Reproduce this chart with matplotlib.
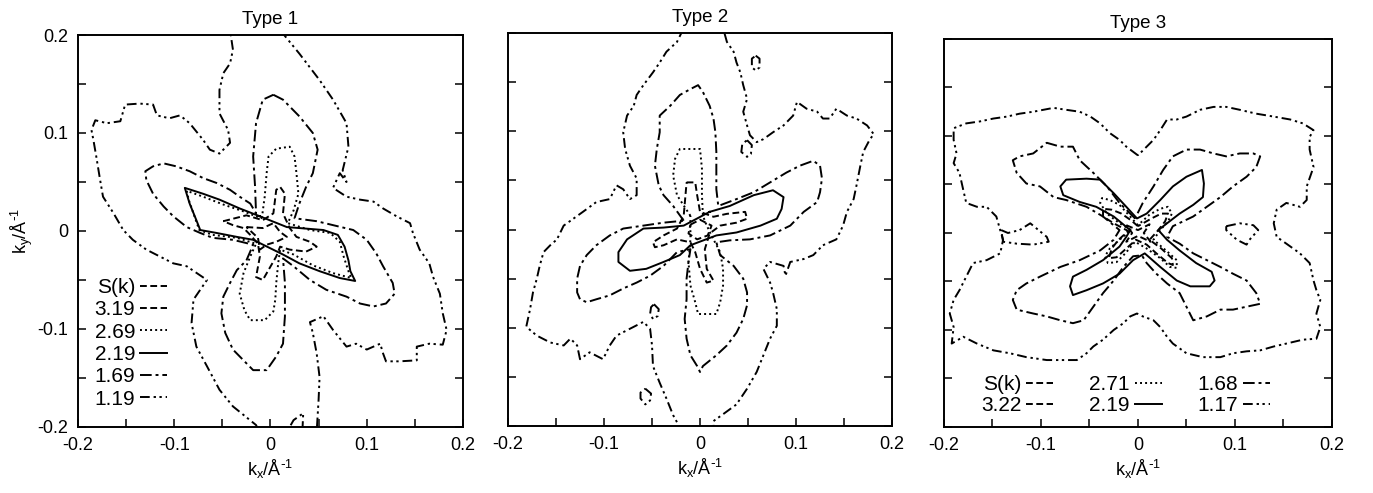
import matplotlib
matplotlib.use("Agg")
import matplotlib.pyplot as plt
from matplotlib.ticker import MultipleLocator, FuncFormatter

plt.rcParams["font.family"] = ["Liberation Sans", "DejaVu Sans"]
plt.rcParams["mathtext.default"] = "regular"
plt.rcParams["axes.unicode_minus"] = False

# contour outlines, (kx, ky) in 1/Angstrom
# ---- Type 1 ----
T1_LEVELS = ["S(k)", "3.19", "2.69", "2.19", "1.69", "1.19"]
T1_SK = [(-0.025, 0.004), (-0.008, 0.003), (0.003, 0.008), (0.010, -0.001), (0.017, -0.006),
         (0.006, -0.011), (-0.004, -0.014), (-0.011, -0.019), (-0.013, -0.007)]
T1_319 = [(-0.049, 0.010), (-0.025, 0.016), (-0.008, 0.011), (0.003, 0.018), (0.006, 0.042),
          (0.010, 0.045), (0.015, 0.038), (0.013, 0.018), (0.020, 0.003), (0.027, -0.006),
          (0.041, -0.011), (0.048, -0.016), (0.037, -0.021), (0.020, -0.019), (0.010, -0.016),
          (0.006, -0.026), (-0.008, -0.050), (-0.015, -0.047), (-0.011, -0.026), (-0.013, -0.013),
          (-0.021, -0.004), (-0.028, 0.003), (-0.039, 0.006)]
T1_269 = [(-0.009, 0.013), (-0.006, 0.035), (-0.004, 0.059), (-0.002, 0.076), (0.006, 0.084),
          (0.020, 0.086), (0.025, 0.076), (0.027, 0.059), (0.029, 0.038), (0.024, 0.021),
          (0.018, 0.008), (0.041, 0.001), (0.062, -0.002), (0.072, -0.011), (0.076, -0.026),
          (0.081, -0.041), (0.084, -0.048), (0.065, -0.043), (0.044, -0.035), (0.024, -0.024),
          (0.010, -0.019), (0.008, -0.033), (0.006, -0.053), (0.005, -0.070), (0.003, -0.082),
          (-0.006, -0.091), (-0.021, -0.091), (-0.027, -0.081), (-0.032, -0.064), (-0.028, -0.043),
          (-0.021, -0.026), (-0.015, -0.013), (-0.035, -0.007), (-0.060, -0.004), (-0.074, 0.001),
          (-0.079, 0.015), (-0.085, 0.032), (-0.087, 0.041), (-0.070, 0.035), (-0.049, 0.027),
          (-0.028, 0.020), (-0.015, 0.015)]
T1_219 = [(-0.011, 0.015), (-0.032, 0.023), (-0.053, 0.032), (-0.070, 0.038), (-0.089, 0.044),
          (-0.084, 0.028), (-0.077, 0.011), (-0.073, 0.001), (-0.056, -0.002), (-0.035, -0.006),
          (-0.018, -0.009), (0.013, -0.024), (0.030, -0.033), (0.051, -0.041), (0.072, -0.048),
          (0.088, -0.051), (0.083, -0.041), (0.081, -0.030), (0.077, -0.016), (0.070, -0.004),
          (0.055, 0.001), (0.030, 0.003), (0.017, 0.004)]
T1_169 = [(0.003, 0.139), (0.013, 0.134), (0.030, 0.117), (0.044, 0.100), (0.049, 0.083),
          (0.044, 0.059), (0.037, 0.045), (0.030, 0.028), (0.025, 0.013), (0.048, 0.010),
          (0.086, 0.001), (0.100, -0.009), (0.110, -0.023), (0.117, -0.036), (0.127, -0.053),
          (0.129, -0.064), (0.120, -0.074), (0.107, -0.077), (0.093, -0.074), (0.079, -0.067),
          (0.058, -0.060), (0.041, -0.050), (0.024, -0.036), (0.013, -0.028), (0.015, -0.053),
          (0.015, -0.087), (0.013, -0.115), (0.006, -0.128), (-0.004, -0.142), (-0.018, -0.142),
          (-0.028, -0.132), (-0.039, -0.121), (-0.047, -0.104), (-0.051, -0.084), (-0.049, -0.067),
          (-0.042, -0.053), (-0.035, -0.040), (-0.025, -0.030), (-0.018, -0.014), (-0.039, -0.009),
          (-0.060, -0.007), (-0.073, -0.002), (-0.087, 0.004), (-0.101, 0.015), (-0.111, 0.025),
          (-0.122, 0.038), (-0.129, 0.052), (-0.130, 0.061), (-0.122, 0.066), (-0.111, 0.069),
          (-0.098, 0.066), (-0.084, 0.061), (-0.070, 0.054), (-0.056, 0.049), (-0.042, 0.042),
          (-0.032, 0.035), (-0.021, 0.028), (-0.015, 0.018), (-0.016, 0.045), (-0.018, 0.076),
          (-0.015, 0.110), (-0.008, 0.134)]
T1_119 = [(0.010, 0.205), (0.030, 0.181), (0.051, 0.154), (0.065, 0.134), (0.079, 0.110),
          (0.081, 0.086), (0.075, 0.062), (0.079, 0.050), (0.072, 0.059), (0.065, 0.044),
          (0.079, 0.035), (0.093, 0.032), (0.107, 0.030), (0.117, 0.023), (0.131, 0.015),
          (0.145, 0.008), (0.148, -0.002), (0.155, -0.019), (0.165, -0.033), (0.169, -0.047),
          (0.176, -0.064), (0.179, -0.084), (0.183, -0.101), (0.179, -0.116), (0.165, -0.115),
          (0.152, -0.118), (0.152, -0.132), (0.134, -0.133), (0.120, -0.133), (0.117, -0.125),
          (0.114, -0.115), (0.100, -0.121), (0.089, -0.115), (0.079, -0.118), (0.065, -0.101),
          (0.055, -0.087), (0.041, -0.093), (0.044, -0.104), (0.048, -0.125), (0.051, -0.149),
          (0.050, -0.172), (0.048, -0.205), (0.045, -0.230), (0.032, -0.230), (0.034, -0.186),
          (0.024, -0.193), (0.017, -0.205), (0.000, -0.230), (-0.015, -0.198), (-0.039, -0.179),
          (-0.053, -0.162), (-0.066, -0.138), (-0.077, -0.118), (-0.082, -0.094), (-0.080, -0.070),
          (-0.066, -0.050), (-0.087, -0.036), (-0.101, -0.033), (-0.115, -0.026), (-0.129, -0.019),
          (-0.143, -0.009), (-0.153, 0.001), (-0.163, 0.018), (-0.174, 0.035), (-0.177, 0.052),
          (-0.181, 0.076), (-0.184, 0.093), (-0.186, 0.103), (-0.182, 0.113), (-0.170, 0.110),
          (-0.156, 0.112), (-0.151, 0.129), (-0.136, 0.130), (-0.122, 0.129), (-0.118, 0.118),
          (-0.105, 0.115), (-0.094, 0.118), (-0.084, 0.110), (-0.070, 0.093), (-0.063, 0.083),
          (-0.053, 0.079), (-0.042, 0.090), (-0.044, 0.103), (-0.053, 0.120), (-0.053, 0.144),
          (-0.049, 0.161), (-0.042, 0.171), (-0.039, 0.185), (-0.042, 0.205), (-0.040, 0.230),
          (0.010, 0.230)]

# ---- Type 2 ----
T2_LEVELS = T1_LEVELS
T2_SK = [(-0.010, 0.005), (0.000, 0.010), (0.012, 0.004), (0.008, -0.006), (-0.003, -0.010),
         (-0.012, -0.004)]
T2_319 = [(-0.014, 0.048), (-0.005, 0.048), (-0.003, 0.035), (0.000, 0.018), (0.014, 0.013),
          (0.028, 0.016), (0.047, 0.018), (0.049, 0.011), (0.038, 0.007), (0.021, 0.004),
          (0.010, -0.004), (0.005, -0.020), (0.007, -0.040), (0.014, -0.052), (0.007, -0.054),
          (0.000, -0.040), (-0.005, -0.023), (-0.010, -0.013), (-0.024, -0.010), (-0.038, -0.016),
          (-0.047, -0.018), (-0.049, -0.013), (-0.038, -0.006), (-0.024, 0.001), (-0.017, 0.014)]
T2_269 = [(-0.010, 0.014), (-0.024, 0.035), (-0.028, 0.055), (-0.026, 0.072), (-0.021, 0.082),
          (0.000, 0.082), (0.002, 0.062), (0.002, 0.035), (0.003, 0.014), (0.007, 0.004),
          (0.014, -0.010), (0.021, -0.023), (0.024, -0.040), (0.024, -0.057), (0.021, -0.074),
          (0.017, -0.086), (-0.002, -0.086), (-0.005, -0.074), (-0.010, -0.057), (-0.012, -0.033),
          (-0.010, -0.010)]
T2_219 = [(0.010, 0.018), (0.031, 0.024), (0.056, 0.035), (0.076, 0.040), (0.087, 0.033),
          (0.085, 0.021), (0.080, 0.011), (0.063, 0.004), (0.038, -0.003), (0.017, -0.006),
          (-0.010, -0.016), (-0.021, -0.026), (-0.038, -0.033), (-0.056, -0.040), (-0.073, -0.042),
          (-0.085, -0.033), (-0.085, -0.023), (-0.076, -0.010), (-0.059, 0.001), (-0.038, 0.002),
          (-0.017, 0.004)]
T2_169 = [(-0.017, 0.009), (-0.028, 0.024), (-0.038, 0.035), (-0.043, 0.045), (-0.047, 0.065),
          (-0.045, 0.082), (-0.042, 0.099), (-0.042, 0.116), (-0.031, 0.126), (-0.021, 0.137),
          (-0.010, 0.143), (-0.002, 0.147), (0.003, 0.140), (0.010, 0.126), (0.014, 0.113),
          (0.016, 0.099), (0.017, 0.079), (0.017, 0.058), (0.017, 0.041), (0.019, 0.024),
          (0.038, 0.031), (0.056, 0.038), (0.073, 0.048), (0.090, 0.058), (0.104, 0.065),
          (0.118, 0.070), (0.125, 0.065), (0.127, 0.052), (0.125, 0.038), (0.122, 0.028),
          (0.108, 0.018), (0.094, 0.004), (0.073, -0.006), (0.052, -0.010), (0.031, -0.011),
          (0.017, -0.013), (0.021, -0.026), (0.035, -0.037), (0.045, -0.050), (0.049, -0.064),
          (0.049, -0.077), (0.045, -0.091), (0.038, -0.105), (0.028, -0.118), (0.017, -0.128),
          (0.003, -0.139), (0.000, -0.145), (-0.003, -0.139), (-0.010, -0.128), (-0.014, -0.111),
          (-0.016, -0.091), (-0.014, -0.071), (-0.014, -0.050), (-0.012, -0.033), (-0.010, -0.020),
          (-0.024, -0.023), (-0.038, -0.037), (-0.052, -0.047), (-0.066, -0.054), (-0.080, -0.060),
          (-0.094, -0.067), (-0.108, -0.071), (-0.118, -0.074), (-0.125, -0.071), (-0.128, -0.064),
          (-0.128, -0.050), (-0.125, -0.037), (-0.118, -0.026), (-0.108, -0.016), (-0.094, -0.006),
          (-0.080, 0.001), (-0.059, 0.004), (-0.038, 0.007)]
T2_119 = [(-0.017, 0.205), (-0.024, 0.191), (-0.035, 0.181), (-0.042, 0.170), (-0.049, 0.160),
          (-0.059, 0.147), (-0.066, 0.137), (-0.069, 0.126), (-0.076, 0.116), (-0.080, 0.099),
          (-0.078, 0.082), (-0.073, 0.065), (-0.066, 0.052), (-0.066, 0.035), (-0.073, 0.031),
          (-0.080, 0.041), (-0.087, 0.045), (-0.094, 0.031), (-0.108, 0.028), (-0.122, 0.018),
          (-0.132, 0.011), (-0.142, 0.004), (-0.149, -0.010), (-0.156, -0.016), (-0.163, -0.023),
          (-0.167, -0.037), (-0.170, -0.050), (-0.174, -0.064), (-0.177, -0.081), (-0.181, -0.099),
          (-0.170, -0.108), (-0.156, -0.115), (-0.142, -0.118), (-0.135, -0.111), (-0.128, -0.118),
          (-0.125, -0.132), (-0.115, -0.125), (-0.101, -0.132), (-0.094, -0.118), (-0.087, -0.108),
          (-0.073, -0.101), (-0.059, -0.094), (-0.052, -0.101), (-0.050, -0.118), (-0.049, -0.139),
          (-0.042, -0.156), (-0.035, -0.172), (-0.028, -0.189), (-0.019, -0.205), (-0.010, -0.230),
          (0.015, -0.230), (0.014, -0.195), (0.024, -0.188), (0.038, -0.178), (0.049, -0.162),
          (0.059, -0.145), (0.066, -0.128), (0.073, -0.111), (0.080, -0.098), (0.080, -0.081),
          (0.076, -0.064), (0.073, -0.054), (0.066, -0.040), (0.073, -0.033), (0.087, -0.037),
          (0.089, -0.047), (0.094, -0.033), (0.108, -0.030), (0.118, -0.026), (0.128, -0.016),
          (0.142, -0.010), (0.149, 0.004), (0.153, 0.018), (0.160, 0.031), (0.163, 0.045),
          (0.167, 0.065), (0.170, 0.079), (0.177, 0.092), (0.181, 0.097), (0.174, 0.106),
          (0.163, 0.113), (0.153, 0.116), (0.142, 0.123), (0.135, 0.113), (0.128, 0.113),
          (0.122, 0.120), (0.111, 0.123), (0.101, 0.130), (0.097, 0.116), (0.087, 0.106),
          (0.076, 0.099), (0.066, 0.092), (0.059, 0.089), (0.052, 0.096), (0.049, 0.106),
          (0.045, 0.120), (0.049, 0.133), (0.045, 0.147), (0.042, 0.160), (0.038, 0.170),
          (0.035, 0.181), (0.028, 0.191), (0.024, 0.205), (0.020, 0.230), (-0.015, 0.230)]
T2_ISLANDS = [
    [(0.058, 0.177), (0.062, 0.174), (0.062, 0.165), (0.058, 0.162), (0.054, 0.165), (0.054, 0.174)],
    [(0.049, 0.091), (0.054, 0.086), (0.053, 0.077), (0.049, 0.074), (0.043, 0.079), (0.044, 0.087)],
    [(-0.048, -0.076), (-0.043, -0.081), (-0.044, -0.088), (-0.049, -0.091), (-0.052, -0.086), (-0.051, -0.079)],
    [(-0.057, -0.162), (-0.051, -0.167), (-0.052, -0.174), (-0.057, -0.178), (-0.062, -0.172), (-0.062, -0.166)],
]

# ---- Type 3 ----
T3_LEVELS = ["S(k)", "3.22", "2.71", "2.19", "1.68", "1.17"]
T3_SK = [(-0.012, 0.008), (0.000, 0.003), (0.012, 0.009), (0.006, 0.000), (0.013, -0.009),
         (0.000, -0.003), (-0.012, -0.009), (-0.006, 0.000)]
T3_322 = [(0.000, 0.007), (-0.007, 0.013), (-0.017, 0.020), (-0.027, 0.024), (-0.036, 0.025),
          (-0.036, 0.017), (-0.025, 0.010), (-0.010, 0.002), (-0.020, -0.007), (-0.027, -0.016),
          (-0.030, -0.026), (-0.022, -0.025), (-0.012, -0.016), (-0.002, -0.007), (0.009, -0.012),
          (0.019, -0.021), (0.031, -0.031), (0.036, -0.033), (0.035, -0.026), (0.024, -0.016),
          (0.012, -0.007), (0.021, 0.003), (0.028, 0.012), (0.031, 0.020), (0.024, 0.020),
          (0.014, 0.015)]
T3_271 = [(0.000, 0.008), (-0.008, 0.017), (-0.019, 0.029), (-0.029, 0.034), (-0.037, 0.036),
          (-0.039, 0.031), (-0.032, 0.020), (-0.019, 0.010), (-0.007, 0.003), (-0.019, -0.007),
          (-0.029, -0.016), (-0.034, -0.024), (-0.031, -0.031), (-0.022, -0.030), (-0.013, -0.021),
          (-0.003, -0.009), (0.009, -0.016), (0.023, -0.026), (0.033, -0.035), (0.040, -0.036),
          (0.040, -0.028), (0.030, -0.019), (0.016, -0.007), (0.023, 0.003), (0.031, 0.012),
          (0.035, 0.020), (0.031, 0.027), (0.023, 0.025), (0.012, 0.019)]
T3_219 = [(-0.008, 0.003), (-0.025, 0.017), (-0.043, 0.027), (-0.060, 0.032), (-0.077, 0.039),
          (-0.080, 0.048), (-0.074, 0.055), (-0.053, 0.056), (-0.039, 0.055), (-0.025, 0.041),
          (-0.012, 0.027), (-0.001, 0.015), (0.009, 0.020), (0.023, 0.034), (0.036, 0.048),
          (0.050, 0.058), (0.066, 0.065), (0.068, 0.051), (0.067, 0.037), (0.057, 0.029),
          (0.043, 0.020), (0.030, 0.010), (0.021, 0.003), (0.030, -0.007), (0.043, -0.018),
          (0.060, -0.031), (0.076, -0.040), (0.079, -0.049), (0.074, -0.055), (0.054, -0.055),
          (0.040, -0.049), (0.023, -0.035), (0.007, -0.021), (-0.005, -0.028), (-0.019, -0.042),
          (-0.036, -0.052), (-0.053, -0.059), (-0.067, -0.064), (-0.070, -0.055), (-0.067, -0.045),
          (-0.053, -0.038), (-0.036, -0.028), (-0.019, -0.014), (-0.012, -0.004)]
T3_168 = [(-0.003, 0.015), (-0.019, 0.031), (-0.032, 0.048), (-0.046, 0.062), (-0.060, 0.075),
          (-0.067, 0.089), (-0.080, 0.089), (-0.094, 0.093), (-0.108, 0.082), (-0.122, 0.079),
          (-0.129, 0.075), (-0.125, 0.062), (-0.115, 0.051), (-0.101, 0.048), (-0.087, 0.037),
          (-0.074, 0.034), (-0.053, 0.027), (-0.036, 0.017), (-0.019, 0.003), (-0.025, -0.007),
          (-0.039, -0.018), (-0.060, -0.028), (-0.080, -0.035), (-0.101, -0.045), (-0.115, -0.052),
          (-0.125, -0.059), (-0.129, -0.069), (-0.125, -0.079), (-0.108, -0.083), (-0.094, -0.086),
          (-0.080, -0.090), (-0.067, -0.093), (-0.056, -0.090), (-0.046, -0.076), (-0.036, -0.062),
          (-0.025, -0.049), (-0.015, -0.035), (-0.005, -0.024), (0.004, -0.023), (0.009, -0.031),
          (0.019, -0.042), (0.030, -0.052), (0.043, -0.062), (0.050, -0.076), (0.057, -0.090),
          (0.071, -0.086), (0.085, -0.079), (0.098, -0.079), (0.112, -0.076), (0.126, -0.073),
          (0.122, -0.062), (0.112, -0.049), (0.098, -0.042), (0.085, -0.035), (0.071, -0.028),
          (0.057, -0.021), (0.043, -0.011), (0.030, -0.004), (0.036, 0.007), (0.057, 0.017),
          (0.071, 0.027), (0.085, 0.037), (0.098, 0.048), (0.112, 0.058), (0.122, 0.068),
          (0.126, 0.079), (0.119, 0.082), (0.105, 0.082), (0.091, 0.079), (0.078, 0.082),
          (0.064, 0.086), (0.050, 0.086), (0.036, 0.079), (0.026, 0.065), (0.016, 0.048),
          (0.005, 0.031)]
T3_117 = [(0.000, 0.080), (-0.012, 0.089), (-0.019, 0.096), (-0.029, 0.103), (-0.039, 0.113),
          (-0.049, 0.120), (-0.060, 0.125), (-0.074, 0.127), (-0.087, 0.129), (-0.108, 0.125),
          (-0.122, 0.123), (-0.135, 0.120), (-0.149, 0.118), (-0.163, 0.115), (-0.177, 0.113),
          (-0.190, 0.108), (-0.190, 0.096), (-0.187, 0.082), (-0.190, 0.072), (-0.184, 0.062),
          (-0.180, 0.044), (-0.177, 0.031), (-0.166, 0.027), (-0.156, 0.027), (-0.146, 0.017),
          (-0.142, 0.003), (-0.139, -0.007), (-0.142, -0.021), (-0.156, -0.028), (-0.170, -0.031),
          (-0.177, -0.045), (-0.184, -0.059), (-0.190, -0.069), (-0.194, -0.083), (-0.190, -0.097),
          (-0.192, -0.114), (-0.180, -0.107), (-0.166, -0.114), (-0.149, -0.121), (-0.132, -0.124),
          (-0.115, -0.128), (-0.094, -0.131), (-0.080, -0.131), (-0.063, -0.131), (-0.053, -0.124),
          (-0.046, -0.117), (-0.036, -0.110), (-0.025, -0.100), (-0.015, -0.093), (-0.008, -0.086),
          (-0.001, -0.083), (0.005, -0.086), (0.016, -0.090), (0.023, -0.097), (0.030, -0.107),
          (0.036, -0.114), (0.050, -0.124), (0.067, -0.128), (0.085, -0.128), (0.098, -0.124),
          (0.112, -0.122), (0.126, -0.121), (0.140, -0.117), (0.153, -0.114), (0.170, -0.110),
          (0.184, -0.109), (0.188, -0.097), (0.184, -0.083), (0.188, -0.069), (0.184, -0.059),
          (0.181, -0.049), (0.177, -0.031), (0.167, -0.021), (0.153, -0.011), (0.143, -0.004),
          (0.140, 0.010), (0.143, 0.024), (0.153, 0.031), (0.167, 0.027), (0.174, 0.034),
          (0.174, 0.048), (0.181, 0.068), (0.177, 0.086), (0.177, 0.099), (0.181, 0.106),
          (0.170, 0.113), (0.157, 0.117), (0.140, 0.120), (0.122, 0.123), (0.105, 0.127),
          (0.091, 0.130), (0.078, 0.130), (0.064, 0.127), (0.050, 0.120), (0.040, 0.117),
          (0.030, 0.117), (0.023, 0.106), (0.016, 0.096), (0.009, 0.089)]
T3_ISLANDS = [
    [(-0.141, 0.003), (-0.134, 0.000), (-0.122, 0.003), (-0.111, 0.010), (-0.094, -0.004),
     (-0.092, -0.009), (-0.108, -0.012), (-0.125, -0.011), (-0.139, -0.009)],
    [(0.091, 0.007), (0.105, 0.010), (0.119, 0.008), (0.124, 0.003), (0.115, -0.007),
     (0.112, -0.012), (0.102, -0.007), (0.091, 0.003)],
]

# line style per level, innermost -> outermost
STYLES = [(0, (3.5, 1.8)), (0, (3.5, 1.8)), (0, (1, 1.6)), "-",
          (0, (6, 2, 1.5, 2)), (0, (5, 2, 1.2, 1.8, 1.2, 2))]
LW = 1.4


def closed(pts):
    xs = [p[0] for p in pts] + [pts[0][0]]
    ys = [p[1] for p in pts] + [pts[0][1]]
    return xs, ys


def draw_panel(ax, contours, labels, islands=()):
    handles = []
    for pts, lab, ls in zip(contours, labels, STYLES):
        xs, ys = closed(pts)
        h, = ax.plot(xs, ys, color="black", lw=LW, ls=ls, label=lab)
        handles.append(h)
    for isl in islands:
        xs, ys = closed(isl)
        ax.plot(xs, ys, color="black", lw=LW, ls=STYLES[-1])
    ax.set_xlim(-0.2, 0.2)
    ax.set_ylim(-0.2, 0.2)
    ax.xaxis.set_major_locator(MultipleLocator(0.1))
    ax.xaxis.set_minor_locator(MultipleLocator(0.05))
    ax.yaxis.set_major_locator(MultipleLocator(0.1))
    ax.yaxis.set_minor_locator(MultipleLocator(0.05))
    fmt = FuncFormatter(lambda v, p: "0" if abs(v) < 1e-9 else f"{v:.1f}")
    ax.xaxis.set_major_formatter(fmt)
    ax.yaxis.set_major_formatter(fmt)
    ax.tick_params(which="both", direction="in", length=6, width=1.1,
                   top=False, right=True, left=True, bottom=True, labelsize=13, pad=7)
    for s in ax.spines.values():
        s.set_linewidth(1.4)
    ax.set_xlabel(r"k$_x$/Å$^{\text{-}1}$", fontsize=13, labelpad=3)
    return handles


fig = plt.figure(figsize=(13.73, 4.93), dpi=100)
ax1 = fig.add_axes([0.0568, 0.1339, 0.2804, 0.7951])
ax2 = fig.add_axes([0.3700, 0.1359, 0.2797, 0.7970])
ax3 = fig.add_axes([0.6875, 0.1339, 0.2826, 0.7870])

h1 = draw_panel(ax1, [T1_SK, T1_319, T1_269, T1_219, T1_169, T1_119], T1_LEVELS)
h2 = draw_panel(ax2, [T2_SK, T2_319, T2_269, T2_219, T2_169, T2_119], T2_LEVELS, T2_ISLANDS)
h3 = draw_panel(ax3, [T3_SK, T3_322, T3_271, T3_219, T3_168, T3_117], T3_LEVELS, T3_ISLANDS)

ax1.set_ylabel(r"k$_y$/Å$^{\text{-}1}$", fontsize=13, labelpad=2)
ax2.tick_params(labelleft=False)
ax3.tick_params(labelleft=False)

for ax, t in zip([ax1, ax2, ax3], ["Type 1", "Type 2", "Type 3"]):
    ax.set_title(t, fontsize=13.5, pad=8)

ax1.legend(handles=h1, loc="lower left", bbox_to_anchor=(0.043, 0.047), frameon=False,
           markerfirst=False, fontsize=15, handlelength=1.3, handletextpad=0.25,
           labelspacing=0.16, borderpad=0, borderaxespad=0)
ax3.legend(handles=h3, loc="lower left", bbox_to_anchor=(0.095, 0.03), frameon=False,
           markerfirst=False, fontsize=15, handlelength=1.3, handletextpad=0.25,
           labelspacing=0.12, borderpad=0, borderaxespad=0, ncol=3, columnspacing=1.7)

fig.savefig("out.png", dpi=100)
